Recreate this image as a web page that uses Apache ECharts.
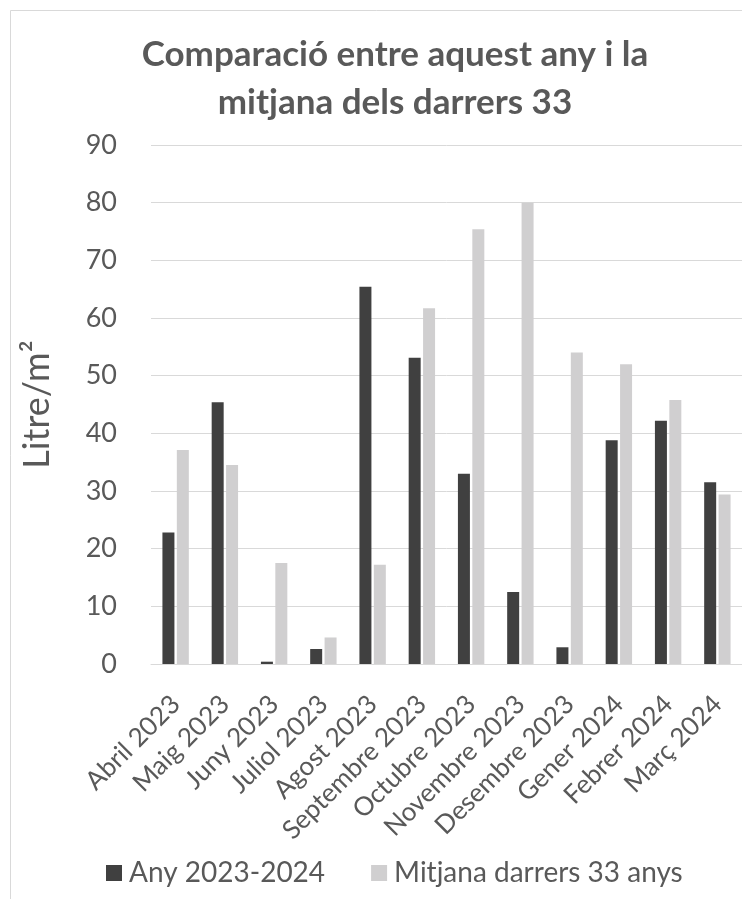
<!DOCTYPE html>
<html>
<head>
<meta charset="utf-8">
<script src="https://cdn.jsdelivr.net/npm/echarts@6/dist/echarts.min.js"></script>
<style>
html,body{margin:0;padding:0;background:#fff;}
#chart{width:742px;height:899px;}
</style>
</head>
<body>
<div id="chart"></div>
<script>
const categories = ['Abril 2023','Maig 2023','Juny 2023','Juliol 2023','Agost 2023','Septembre 2023','Octubre 2023','Novembre 2023','Desembre 2023','Gener 2024','Febrer 2024','Març 2024'];
const anyActual = [22.8, 45.4, 0.4, 2.6, 65.4, 53.1, 33.0, 12.5, 2.9, 38.8, 42.2, 31.5];
const mitjana = [37.1, 34.5, 17.5, 4.6, 17.2, 61.7, 75.4, 80.0, 54.0, 52.0, 45.8, 29.4];
const seriesNames = ['Any 2023-2024', 'Mitjana darrers 33 anys'];
const titleText = 'Comparació entre aquest any i la\nmitjana dels darrers 33';
const yAxisName = 'Litre/m²';

const FONT = 'Lato, "Open Sans", sans-serif';
const chart = echarts.init(document.getElementById('chart'));
chart.setOption({
  backgroundColor: '#fff',
  animation: false,
  graphic: [{
    type: 'rect',
    shape: {x: 10.5, y: 10.5, width: 760, height: 920},
    style: {fill: 'none', stroke: '#d9d9d9', lineWidth: 1},
    silent: true
  }],
  title: {
    text: titleText,
    left: 390,
    textAlign: 'center',
    top: 26,
    textStyle: {fontFamily: FONT, fontWeight: 'bold', fontSize: 35, color: '#595959', lineHeight: 48}
  },
  legend: {
    bottom: 7,
    left: 101,
    itemWidth: 16,
    itemHeight: 16,
    itemGap: 46,
    icon: 'rect',
    textStyle: {fontFamily: FONT, fontSize: 28, color: '#595959', padding: [0, 0, 0, 2]},
    data: seriesNames
  },
  grid: {left: 151, right: 0, top: 145, bottom: 235, containLabel: false},
  xAxis: {
    type: 'category',
    data: categories,
    axisLine: {lineStyle: {color: '#d9d9d9'}},
    axisTick: {show: false},
    axisLabel: {rotate: 45, fontFamily: FONT, fontSize: 26, color: '#595959', margin: 36, interval: 0}
  },
  yAxis: {
    type: 'value',
    min: 0, max: 90, interval: 10,
    name: yAxisName,
    nameLocation: 'middle',
    nameGap: 96,
    nameTextStyle: {fontFamily: FONT, fontSize: 36, color: '#595959'},
    axisLine: {show: false},
    axisTick: {show: false},
    splitLine: {lineStyle: {color: '#d9d9d9'}},
    axisLabel: {fontFamily: FONT, fontSize: 27, color: '#595959', margin: 34}
  },
  series: [
    {name: seriesNames[0], type: 'bar', data: anyActual, barWidth: 12, barGap: '20%',
     itemStyle: {color: '#404040'}},
    {name: seriesNames[1], type: 'bar', data: mitjana, barWidth: 12,
     itemStyle: {color: '#d0cfd0'}}
  ]
});
</script>
</body>
</html>
